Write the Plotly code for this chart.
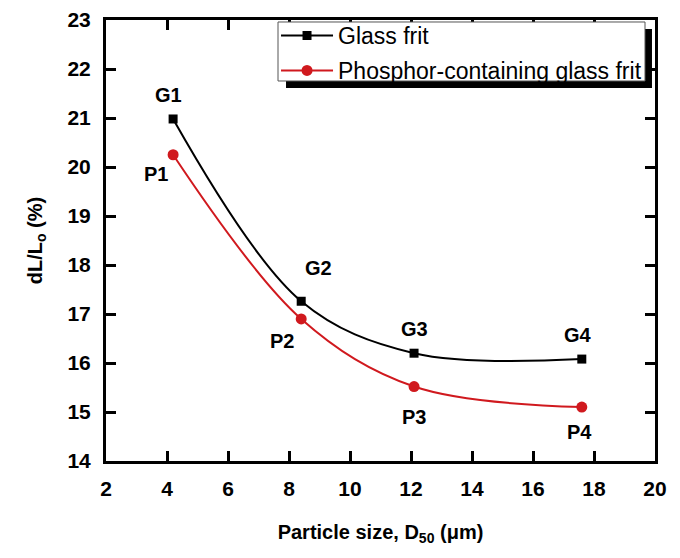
import plotly.graph_objects as go

# ---- data ----
glass_x = [4.2, 8.4, 12.1, 17.6]
glass_y = [20.98, 17.26, 16.2, 16.08]
glass_labels = ["G1", "G2", "G3", "G4"]

phos_x = [4.2, 8.4, 12.1, 17.6]
phos_y = [20.25, 16.9, 15.52, 15.1]
phos_labels = ["P1", "P2", "P3", "P4"]

x_ticks = [2, 4, 6, 8, 10, 12, 14, 16, 18, 20]
y_ticks = [14, 15, 16, 17, 18, 19, 20, 21, 22, 23]

# label pixel offsets (style)
glass_shift = [(-5, 24), (17, 33), (0, 24), (-4, 24)]
phos_shift = [(-17, -19), (-19, -22), (0, -30), (-2, -25)]

FONT = "Arial, Liberation Sans, sans-serif"

fig = go.Figure()
fig.add_trace(go.Scatter(
    x=glass_x, y=glass_y, name="Glass frit", legendgroup="g",
    mode="lines+markers",
    line=dict(color="black", width=2, shape="spline", smoothing=1.0),
    marker=dict(symbol="square", size=9, color="black"),
))
fig.add_trace(go.Scatter(
    x=phos_x, y=phos_y, name="Phosphor-containing glass frit", legendgroup="p",
    mode="lines+markers",
    line=dict(color="#d0191e", width=2, shape="spline", smoothing=1.0),
    marker=dict(symbol="circle", size=11, color="#d0191e"),
))

annotations = []
for xs, ys, labs, shifts in [(glass_x, glass_y, glass_labels, glass_shift),
                             (phos_x, phos_y, phos_labels, phos_shift)]:
    for xv, yv, lab, (dx, dy) in zip(xs, ys, labs, shifts):
        annotations.append(dict(
            x=xv, y=yv, text=lab, showarrow=False,
            xshift=dx, yshift=dy,
            font=dict(family=FONT, size=20, color="black", weight="bold"),
        ))

axis_common = dict(
    showline=True, linecolor="black", linewidth=3,
    mirror="ticks", ticks="inside", ticklen=10, tickwidth=3, tickcolor="black",
    showgrid=False, zeroline=False, automargin=False,
    tickfont=dict(family=FONT, size=21, color="black", weight="bold"),
)

fig.update_xaxes(
    range=[2, 20], tickvals=x_ticks, ticktext=[str(v) for v in x_ticks],
    title=dict(text="Particle size, D<sub>50</sub> (μm)",
               font=dict(family=FONT, size=20, color="black", weight="bold"),
               standoff=26),
    ticklabelstandoff=7,
    **axis_common,
)
fig.update_yaxes(
    range=[14, 23], tickvals=y_ticks, ticktext=[str(v) for v in y_ticks],
    title=dict(text="dL/L<sub>o</sub> (%)",
               font=dict(family=FONT, size=20, color="black", weight="bold"),
               standoff=20),
    ticklabelstandoff=8,
    **axis_common,
)

# legend frame with drop shadow (drawn as shapes behind the transparent legend)
shapes = [
    dict(type="rect", xref="paper", yref="paper",
         x0=0.3279, x1=0.9945, y0=0.8458, y1=0.9796,
         fillcolor="black", line=dict(width=0), layer="above"),
    dict(type="rect", xref="paper", yref="paper",
         x0=0.3133, x1=0.9818, y0=0.8617, y1=0.9955,
         fillcolor="white", line=dict(color="#555555", width=1), layer="above"),
]

# page body adds an 8px offset; figure sized to compensate
fig.update_layout(
    width=672, height=550,
    margin=dict(l=98, r=25, t=12, b=97, autoexpand=False),
    paper_bgcolor="white", plot_bgcolor="white",
    showlegend=True,
    legend=dict(
        x=0.3097, y=0.989, xref="paper", yref="container",
        xanchor="left", yanchor="top",
        bgcolor="rgba(0,0,0,0)", borderwidth=0,
        font=dict(family=FONT, size=23, color="black"),
        tracegroupgap=2, itemwidth=52, traceorder="grouped",
    ),
    annotations=annotations,
    shapes=shapes,
)

fig.write_html("out.html")
